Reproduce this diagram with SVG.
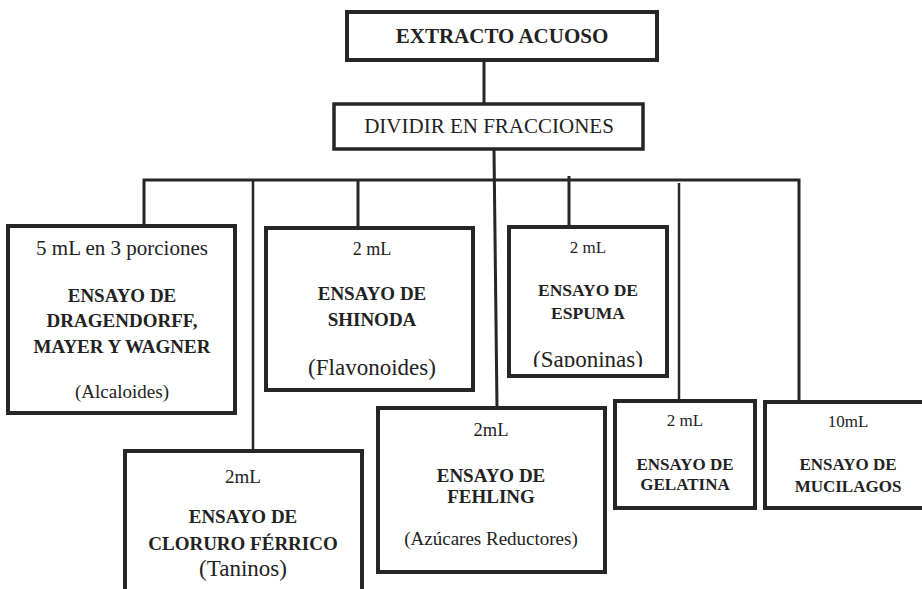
<svg xmlns="http://www.w3.org/2000/svg" width="922" height="589" viewBox="0 0 922 589">
<style>
.box{fill:#fff;stroke:#262626;stroke-width:4}
.ln{stroke:#262626;stroke-width:3;fill:none}
.thin{stroke-width:2.5}
.t{font-family:"Liberation Serif","Times New Roman",serif;fill:#222;text-anchor:middle}
.b{font-weight:bold}
</style>
<defs>
<clipPath id="clipEsp"><rect x="505" y="220" width="170" height="147"/></clipPath>
</defs>
<rect width="922" height="589" fill="#fff"/>
<g id="connectors">
<line class="ln" x1="484" y1="60" x2="484" y2="104"/>
<line class="ln" x1="494" y1="149" x2="497" y2="408"/>
<polyline class="ln" points="144,226 144,180 799,180 799,402"/>
<line class="ln thin" x1="253" y1="180" x2="253" y2="451"/>
<line class="ln" x1="358" y1="180" x2="358" y2="228"/>
<line class="ln" x1="569" y1="176" x2="569" y2="227"/>
<line class="ln thin" x1="679" y1="183" x2="679" y2="401"/>
</g>
<g id="extracto">
<rect class="box" x="347" y="12" width="310" height="48"/>
<text class="t b" x="502" y="43" font-size="21">EXTRACTO ACUOSO</text>
</g>
<g id="dividir">
<rect class="box" x="334" y="104" width="309" height="45" style="stroke-width:3.5"/>
<text class="t" x="489" y="133" font-size="21">DIVIDIR EN FRACCIONES</text>
</g>
<g id="dragendorff">
<rect class="box" x="8" y="226" width="227" height="187"/>
<text class="t" x="122" y="255" font-size="21">5 mL en 3 porciones</text>
<text class="t b" x="122" y="302" font-size="19">ENSAYO DE</text>
<text class="t b" x="122" y="327" font-size="19">DRAGENDORFF,</text>
<text class="t b" x="122" y="353" font-size="19">MAYER Y WAGNER</text>
<text class="t" x="122" y="398" font-size="19">(Alcaloides)</text>
</g>
<g id="shinoda">
<rect class="box" x="266" y="228" width="207" height="162"/>
<text class="t" x="372" y="255" font-size="18">2 mL</text>
<text class="t b" x="372" y="300" font-size="19">ENSAYO DE</text>
<text class="t b" x="372" y="326" font-size="19">SHINODA</text>
<text class="t" x="372" y="375" font-size="23">(Flavonoides)</text>
</g>
<g id="espuma">
<rect class="box" x="509" y="227" width="158" height="149"/>
<text class="t" x="588" y="253" font-size="17">2 mL</text>
<text class="t b" x="588" y="296" font-size="17.5">ENSAYO DE</text>
<text class="t b" x="588" y="319" font-size="17.5">ESPUMA</text>
<text class="t" x="588" y="367" font-size="23" clip-path="url(#clipEsp)">(Saponinas)</text>
</g>
<g id="cloruro">
<rect class="box" x="125" y="451" width="237" height="160"/>
<text class="t" x="243" y="483" font-size="19">2mL</text>
<text class="t b" x="243" y="523" font-size="19">ENSAYO DE</text>
<text class="t b" x="243" y="550" font-size="19">CLORURO FÉRRICO</text>
<text class="t" x="243" y="576" font-size="23">(Taninos)</text>
</g>
<g id="fehling">
<rect class="box" x="378" y="408" width="227" height="164"/>
<text class="t" x="491" y="436" font-size="18.5">2mL</text>
<text class="t b" x="491" y="482" font-size="19">ENSAYO DE</text>
<text class="t b" x="491" y="503" font-size="19">FEHLING</text>
<text class="t" x="491" y="545" font-size="19">(Azúcares Reductores)</text>
</g>
<g id="gelatina">
<rect class="box" x="615" y="401" width="140" height="107"/>
<text class="t" x="685" y="426" font-size="17">2 mL</text>
<text class="t b" x="685" y="470" font-size="17">ENSAYO DE</text>
<text class="t b" x="685" y="490" font-size="17">GELATINA</text>
</g>
<g id="mucilagos">
<rect class="box" x="765" y="402" width="200" height="106"/>
<text class="t" x="848" y="427" font-size="17">10mL</text>
<text class="t b" x="848" y="470" font-size="17">ENSAYO DE</text>
<text class="t b" x="848" y="492" font-size="17">MUCILAGOS</text>
</g>
</svg>
